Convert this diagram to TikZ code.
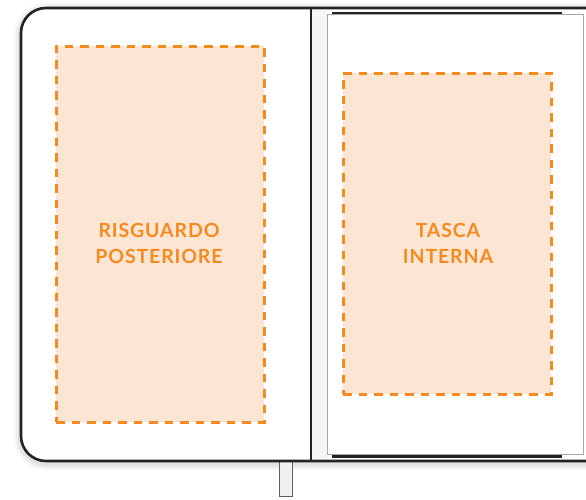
\documentclass[tikz,border=0pt]{standalone}
\usepackage{fontspec}
\setmainfont{Lato}
\usetikzlibrary{positioning}

\definecolor{tagorange}{HTML}{F58A1F}
\definecolor{tagfill}{HTML}{FDE5D3}
\definecolor{coverline}{HTML}{222222}

\begin{document}
\begin{tikzpicture}[x=1pt,y=-1pt,
    zone/.style={draw=tagorange,fill=tagfill,line width=3pt,
      dash pattern=on 8.5pt off 7pt,inner sep=0pt,outer sep=0pt},
    zonetext/.style={text=tagorange,align=center,
      font=\fontsize{19.5}{26}\selectfont\bfseries\addfontfeature{LetterSpace=4.5}}]
  \useasboundingbox (0,0) rectangle (586,499);
  \clip (0,0) rectangle (586,499);

  % soft shadow round the cover
  \foreach \w/\o in {14/0.03,10/0.04,6/0.05}
    \draw[line width=\w pt,draw=black,opacity=\o,rounded corners=25pt]
      (21,10) rectangle (610,463);

  % bookmark ribbon
  \draw[draw=gray!75!black,fill=gray!12,line width=0.8pt]
    (279.5,455) rectangle (292,496);

  % cover
  \draw[draw=coverline,fill=white,line width=2.6pt,rounded corners=25pt]
    (21,8) rectangle (612,461);
  \draw[draw=coverline,line width=1.4pt] (311,9) -- (311,460);

  % inner pocket page
  \fill[gray!8] (312,10) rectangle (327,459);
  \draw[draw=gray!70,fill=white,line width=1pt] (327,14.5) rectangle (583,454);
  \draw[draw=coverline,line width=2pt] (332,12.5) -- (562,12.5);
  \draw[draw=coverline,line width=3pt] (332,456.8) -- (562,456.8);

  % print zones
  \node[zone,minimum width=208pt,minimum height=376pt] (back) at (160,234) {};
  \node[zone,minimum width=208pt,minimum height=321pt] (pocket) at (447,233.5) {};
  \node[zonetext] (backtext) at (159,243) {RISGUARDO\\POSTERIORE};
  \node[zonetext] (pockettext) at (448,243) {TASCA\\INTERNA};
\end{tikzpicture}
\end{document}
